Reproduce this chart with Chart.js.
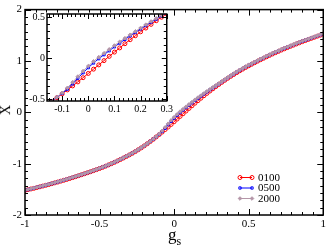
<!DOCTYPE html>
<html><head><meta charset="utf-8">
<script src="https://cdn.jsdelivr.net/npm/chart.js@4.4.1/dist/chart.umd.min.js"></script>
<style>
html,body{margin:0;padding:0;background:#fff;}
#wrap{position:relative;width:329px;height:250px;overflow:hidden;background:#fff;}
canvas{position:absolute;left:0;top:0;}
.t{position:absolute;color:#000;font-family:"Liberation Serif",serif;white-space:nowrap;line-height:1;}
</style></head>
<body><div id="wrap">
<canvas id="main" width="329" height="250"></canvas>
<canvas id="inset" width="175" height="115"></canvas>
<div class="t" style="left:168px;top:226px;font-size:17px;">g<span style="font-size:12px;position:relative;top:5px;">s</span></div>
<div class="t" style="left:1px;top:103px;font-size:14px;transform:rotate(-90deg);">X</div>
</div>
<script>
const gs = [-1.00,-0.98,-0.96,-0.94,-0.92,-0.90,-0.88,-0.86,-0.84,-0.82,
 -0.80,-0.78,-0.76,-0.74,-0.72,-0.70,-0.68,-0.66,-0.64,-0.62,
 -0.60,-0.58,-0.56,-0.54,-0.52,-0.50,-0.48,-0.46,-0.44,-0.42,
 -0.40,-0.38,-0.36,-0.34,-0.32,-0.30,-0.28,-0.26,-0.24,-0.22,
 -0.20,-0.18,-0.16,-0.14,-0.12,-0.10,-0.08,-0.06,-0.04,-0.02,
 0.00,0.02,0.04,0.06,0.08,0.10,0.12,0.14,0.16,0.18,
 0.20,0.22,0.24,0.26,0.28,0.30,0.32,0.34,0.36,0.38,
 0.40,0.42,0.44,0.46,0.48,0.50,0.52,0.54,0.56,0.58,
 0.60,0.62,0.64,0.66,0.68,0.70,0.72,0.74,0.76,0.78,
 0.80,0.82,0.84,0.86,0.88,0.90,0.92,0.94,0.96,0.98,
 1.00];
const x0100 = [-1.520,-1.507,-1.493,-1.480,-1.465,-1.451,-1.436,-1.421,-1.406,-1.390,
 -1.374,-1.358,-1.341,-1.324,-1.307,-1.289,-1.271,-1.253,-1.234,-1.215,
 -1.196,-1.176,-1.157,-1.136,-1.116,-1.095,-1.073,-1.049,-1.025,-1.000,
 -0.974,-0.947,-0.919,-0.890,-0.861,-0.830,-0.798,-0.765,-0.729,-0.692,
 -0.653,-0.612,-0.570,-0.526,-0.480,-0.433,-0.385,-0.336,-0.287,-0.236,
 -0.184,-0.132,-0.080,-0.028,0.024,0.076,0.127,0.178,0.227,0.275,
 0.323,0.369,0.414,0.458,0.501,0.543,0.584,0.624,0.663,0.701,
 0.737,0.773,0.808,0.841,0.874,0.905,0.936,0.966,0.996,1.025,
 1.053,1.081,1.109,1.136,1.162,1.187,1.213,1.237,1.261,1.285,
 1.308,1.331,1.353,1.376,1.397,1.419,1.440,1.461,1.482,1.502,
 1.522];
const x0500 = [-1.517,-1.504,-1.490,-1.477,-1.462,-1.448,-1.433,-1.418,-1.403,-1.387,
 -1.371,-1.355,-1.338,-1.321,-1.304,-1.286,-1.268,-1.250,-1.231,-1.212,
 -1.193,-1.173,-1.154,-1.133,-1.113,-1.092,-1.070,-1.046,-1.022,-0.997,
 -0.971,-0.944,-0.916,-0.887,-0.858,-0.827,-0.795,-0.762,-0.726,-0.689,
 -0.650,-0.609,-0.567,-0.523,-0.477,-0.428,-0.375,-0.311,-0.242,-0.176,
 -0.114,-0.057,-0.005,0.044,0.092,0.140,0.185,0.230,0.273,0.315,
 0.358,0.399,0.439,0.478,0.517,0.556,0.596,0.636,0.675,0.713,
 0.749,0.785,0.820,0.853,0.886,0.917,0.946,0.976,1.006,1.035,
 1.063,1.091,1.119,1.146,1.172,1.197,1.223,1.247,1.271,1.295,
 1.318,1.339,1.361,1.384,1.405,1.427,1.448,1.469,1.490,1.510,
 1.530];
const x2000 = [-1.515,-1.502,-1.488,-1.475,-1.460,-1.446,-1.431,-1.416,-1.401,-1.385,
 -1.369,-1.353,-1.336,-1.319,-1.302,-1.284,-1.266,-1.248,-1.229,-1.210,
 -1.191,-1.171,-1.152,-1.131,-1.111,-1.090,-1.068,-1.044,-1.020,-0.995,
 -0.969,-0.942,-0.914,-0.885,-0.856,-0.825,-0.793,-0.760,-0.724,-0.687,
 -0.648,-0.607,-0.565,-0.521,-0.474,-0.421,-0.360,-0.291,-0.222,-0.156,
 -0.094,-0.037,0.014,0.062,0.109,0.156,0.201,0.245,0.287,0.328,
 0.370,0.410,0.449,0.488,0.526,0.564,0.602,0.642,0.681,0.719,
 0.755,0.791,0.826,0.859,0.892,0.923,0.951,0.981,1.011,1.040,
 1.068,1.096,1.124,1.151,1.177,1.202,1.228,1.252,1.276,1.300,
 1.323,1.343,1.365,1.388,1.409,1.431,1.452,1.473,1.494,1.514,
 1.534];
const seriesNames = ['0100','0500','2000'];
const mainXTicks = [-1,-0.5,0,0.5,1];
const mainYTicks = [-2,-1,0,1,2];
const insetXTicks = [-0.1,0,0.1,0.2,0.3];
const insetYTicks = [-0.5,0,0.5];

const COLORS = ['#ff0000','#0000ff','#b496a8'];
const FILLS = ['rgba(0,0,0,0)','rgba(0,0,0,0)','#b496a8'];
const STYLES = ['circle','rect','rectRot'];
const RADII = [2,1.6,1.8];
const FONT = "'Liberation Serif', serif";

function fmt(v){ return String(Math.round(v*1000)/1000); }
function makeDatasets(){
  return [x0100,x0500,x2000].map((ys,i)=>({
    label: seriesNames[i],
    data: gs.map((g,j)=>({x:g,y:ys[j]})),
    borderColor: COLORS[i], backgroundColor: FILLS[i],
    pointBorderColor: COLORS[i], pointBackgroundColor: FILLS[i],
    borderWidth: 1, pointRadius: RADII[i], pointBorderWidth: 1,
    pointStyle: STYLES[i], order: 3-i, tension: 0, clip: 0
  }));
}
function ticksPlugin(cfg){
  return {
    id:'frameTicks',
    beforeDatasetsDraw(chart){
      if(!cfg.fillWhite) return;
      const a=chart.chartArea, ctx=chart.ctx;
      ctx.save(); ctx.fillStyle='#fff';
      ctx.fillRect(a.left,a.top,a.right-a.left,a.bottom-a.top); ctx.restore();
    },
    afterDatasetsDraw(chart){
      const ctx=chart.ctx, a=chart.chartArea, xs=chart.scales.x, ys=chart.scales.y;
      ctx.save(); ctx.strokeStyle='#000'; ctx.lineWidth=1;
      const ln=(x1,y1,x2,y2)=>{ctx.beginPath();ctx.moveTo(x1,y1);ctx.lineTo(x2,y2);ctx.stroke();};
      const xst=cfg.xMajor/cfg.xSub;
      for(let k=Math.ceil(xs.min/xst-1e-6); k*xst<=xs.max+1e-6; k++){
        const px=Math.round(xs.getPixelForValue(k*xst))+0.5;
        const L=(k%cfg.xSub===0)?cfg.major:cfg.minor;
        ln(px,a.bottom,px,a.bottom-L); ln(px,a.top,px,a.top+L);
      }
      const yst=cfg.yMajor/cfg.ySub;
      for(let k=Math.ceil(ys.min/yst-1e-6); k*yst<=ys.max+1e-6; k++){
        const py=Math.round(ys.getPixelForValue(k*yst))+0.5;
        const L=(k%cfg.ySub===0)?cfg.major:cfg.minor;
        ln(a.left,py,a.left+L,py); ln(a.right,py,a.right-L,py);
      }
      ctx.lineWidth=cfg.frame;
      ctx.strokeRect(a.left,a.top,a.right-a.left,a.bottom-a.top);
      ctx.restore();
    }
  };
}
const legendPlugin = {
  id:'legendBox',
  afterDraw(chart){
    const ctx=chart.ctx;
    chart.data.datasets.forEach((ds,i)=>{
      const y=177.5+i*10.5;
      ctx.save();
      ctx.strokeStyle=ds.borderColor; ctx.lineWidth=1;
      ctx.beginPath(); ctx.moveTo(240,y); ctx.lineTo(252,y); ctx.stroke();
      ctx.fillStyle=ds.pointBackgroundColor;
      [240,252].forEach(px=>Chart.helpers.drawPoint(ctx,{pointStyle:ds.pointStyle,radius:ds.pointRadius,borderWidth:1,rotation:0},px,y));
      ctx.fillStyle='#000'; ctx.font="11px "+FONT; ctx.textBaseline='middle'; ctx.textAlign='left';
      ctx.fillText(ds.label,258,y+0.5);
      ctx.restore();
    });
  }
};
function axis(min,max,ticks,extra){
  return Object.assign({
    type:'linear', min:min, max:max,
    afterBuildTicks:s=>{ s.ticks=ticks.map(v=>({value:v})); },
    grid:{display:false,drawTicks:false}, border:{display:false},
    ticks:{padding:3,color:'#000',font:{family:FONT,size:11},callback:v=>fmt(v),maxRotation:0,autoSkip:false}
  },extra);
}
new Chart(document.getElementById('main'),{
  type:'line',
  data:{datasets:makeDatasets()},
  options:{
    responsive:false, animation:false, devicePixelRatio:1,
    layout:{padding:{top:6,right:4,left:0,bottom:0}},
    plugins:{legend:{display:false},tooltip:{enabled:false}},
    scales:{
      x:axis(-1,1,mainXTicks,{afterFit:s=>{s.height=35;}}),
      y:axis(-2,2,mainYTicks,{afterFit:s=>{s.width=25;}})
    }
  },
  plugins:[ticksPlugin({xMajor:0.5,xSub:7,yMajor:1,ySub:7,major:6,minor:3,frame:1.5}),legendPlugin]
});
const ix=axis(-0.158,0.3,insetXTicks,{afterFit:s=>{s.height=14;}});
ix.ticks.font={family:FONT,size:10}; ix.ticks.padding=2;
const iy=axis(-0.52,0.54,insetYTicks,{afterFit:s=>{s.width=47;}});
iy.ticks.font={family:FONT,size:10}; iy.ticks.padding=2;
new Chart(document.getElementById('inset'),{
  type:'line',
  data:{datasets:makeDatasets()},
  options:{
    responsive:false, animation:false, devicePixelRatio:1,
    layout:{padding:{top:14,right:8,left:0,bottom:0}},
    plugins:{legend:{display:false},tooltip:{enabled:false}},
    scales:{x:ix,y:iy}
  },
  plugins:[ticksPlugin({xMajor:0.1,xSub:6,yMajor:0.5,ySub:6,major:5,minor:3,frame:1.5,fillWhite:true})]
});
</script>
</body></html>
